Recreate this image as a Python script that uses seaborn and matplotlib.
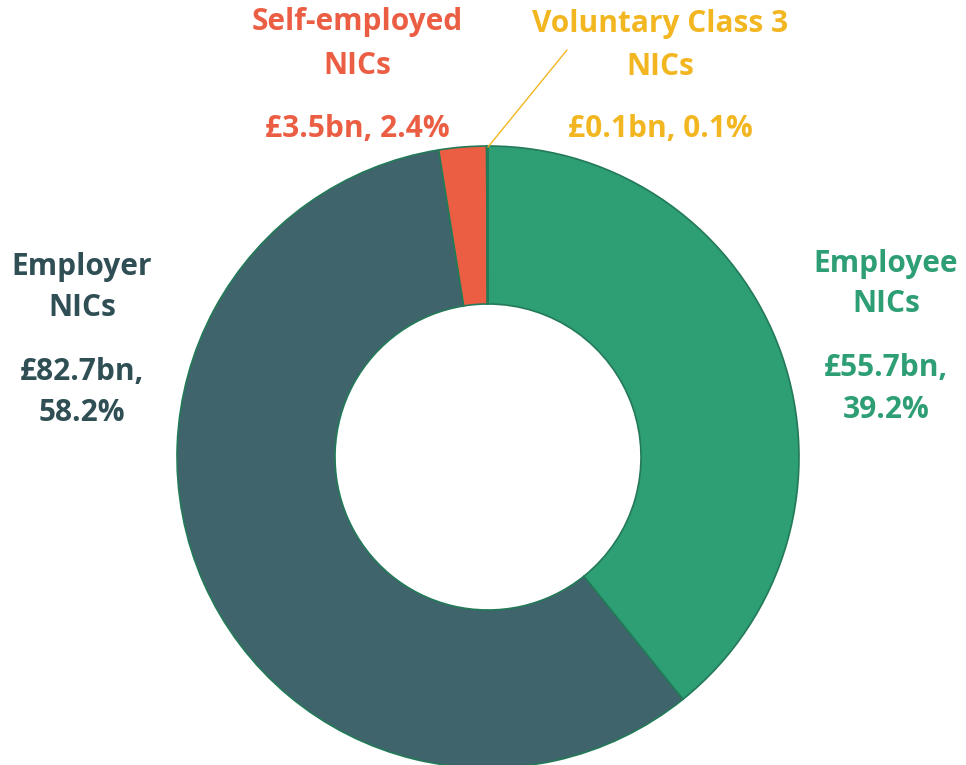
import matplotlib.pyplot as plt
import seaborn as sns

# NICs receipts by type
categories = ['Employee NICs', 'Employer NICs', 'Self-employed NICs', 'Voluntary Class 3 NICs']
values_bn = [55.7, 82.7, 3.5, 0.1]
shares = [39.2, 58.2, 2.4, 0.1]
colors = ['#2e9e74', '#3f646b', '#eb5e43', '#f2b620']
text_colors = ['#2e9e74', '#2f4f55', '#eb5e43', '#f2b620']

sns.set_theme(style='white')
plt.rcParams['font.family'] = ['Open Sans', 'DejaVu Sans']

fig = plt.figure(figsize=(9.66, 7.65), dpi=100)
ax = fig.add_axes([0, 0, 1, 1])

# donut, drawn clockwise from the top
cx, cy, r_out, r_in = 488, 765 - 457, 311, 153
ax.pie(values_bn, colors=colors, startangle=90, counterclock=False,
       center=(cx, cy), radius=r_out, frame=True,
       wedgeprops=dict(width=r_out - r_in, edgecolor='#237a58', linewidth=1.2))
ax.set_xlim(0, 966)
ax.set_ylim(0, 765)
ax.set_aspect('equal')
ax.axis('off')

def fmt_bn(v):
    return f'£{v}bn'

# label layouts: (x, [lines with y from top])
layouts = [
    (886, [('Employee', 264), ('NICs', 304), (fmt_bn(values_bn[0]) + ',', 368), (f'{shares[0]}%', 410)]),
    (82, [('Employer', 267), ('NICs', 308), (fmt_bn(values_bn[1]) + ',', 372), (f'{shares[1]}%', 413)]),
    (357, [('Self-employed', 22), ('NICs', 66), (f'{fmt_bn(values_bn[2])}, {shares[2]}%', 129)]),
    (660, [('Voluntary Class 3', 24), ('NICs', 67), (f'{fmt_bn(values_bn[3])}, {shares[3]}%', 129)]),
]
for (x, lines), col in zip(layouts, text_colors):
    for txt, y in lines:
        ax.text(x, 765 - y, txt, ha='center', va='center', fontsize=21.5,
                fontweight='bold', color=col)

# leader line for the tiny voluntary slice
ax.plot([488, 567], [765 - 147, 765 - 50], color=colors[3], linewidth=1)

fig.savefig('out.png', dpi=100)
